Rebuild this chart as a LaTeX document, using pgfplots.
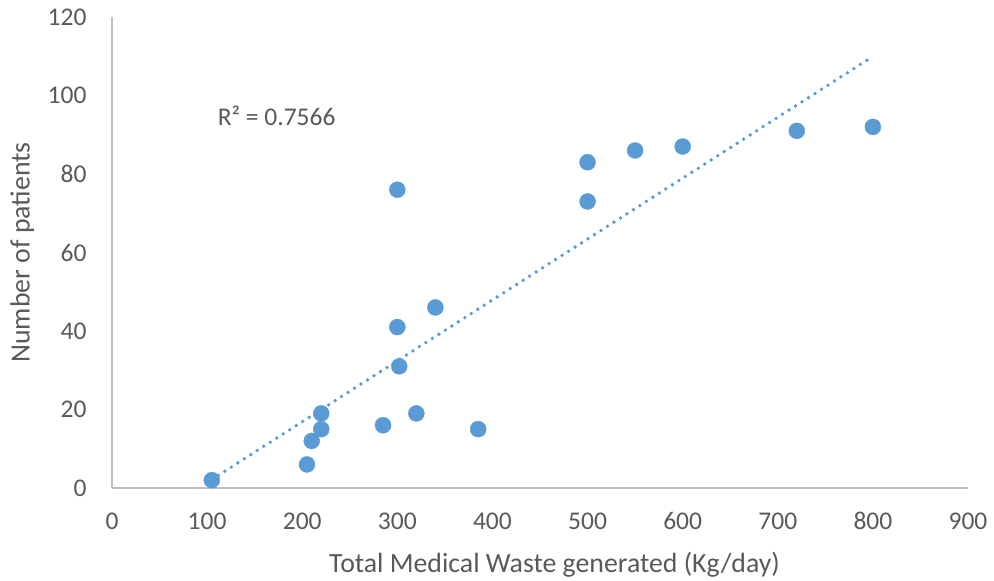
\documentclass[border=0pt]{standalone}
\usepackage{pgfplots}
\usepackage{pgfplotstable}
\pgfplotsset{compat=1.18}
\usepackage{fontspec}
\setmainfont{Carlito}
\definecolor{pt}{HTML}{5B9BD5}
\definecolor{txt}{HTML}{595959}
\definecolor{ax}{HTML}{BFBFBF}
\pgfplotstableread{
x y
105 2
205 6
210 12
220 15
220 19
285 16
300 41
300 76
302 31
320 19
340 46
385 15
500 73
500 83
550 86
600 87
720 91
800 92
}\data
\begin{document}
\begin{tikzpicture}
\path[use as bounding box] (0,0) rectangle (994pt,581pt);
\begin{axis}[
  at={(112pt,93pt)}, anchor=south west,
  scale only axis, width=856pt, height=471pt,
  xmin=0, xmax=900, ymin=0, ymax=120,
  xtick distance=100, ytick distance=20,
  axis x line*=bottom, axis y line*=left,
  axis line style={-, ax, line width=1.3pt},
  major tick length=0pt,
  tick label style={font=\fontsize{25.5}{28}\selectfont, text=txt},
  /pgf/number format/assume math mode=true,
  xticklabel style={yshift=-21pt},
  yticklabel style={xshift=-22pt},
  xlabel={Total Medical Waste generated (Kg/day)},
  ylabel={Number of patients},
  label style={font=\fontsize{27.8}{32}\selectfont, text=txt},
  xlabel style={at={(axis description cs:0.517,-0.1635)}, anchor=center},
  ylabel style={at={(axis description cs:-0.105,0.5)}, anchor=center},
  clip=false,
]
\addplot[only marks, mark=*, mark size=8pt, mark options={fill=pt, draw=pt}] table[x=x,y=y] {\data};
\addplot[pt, line width=3.8pt, line cap=round, dash pattern=on 0pt off 7.7pt] table[x=x, y={create col/linear regression={y=y}}] {\data};
\node[anchor=west, font=\fontsize{25.5}{28}\selectfont, text=txt, inner sep=0pt] at (axis cs:111,94.8) {R² = 0.7566};
\end{axis}
\end{tikzpicture}
\end{document}
